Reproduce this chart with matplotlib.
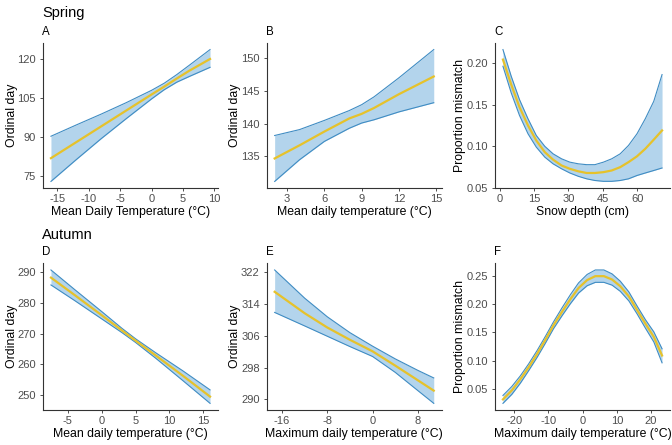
import matplotlib
matplotlib.use("Agg")
import matplotlib.pyplot as plt

plt.rcParams['font.family'] = ['Liberation Sans', 'DejaVu Sans']
plt.rcParams['axes.unicode_minus'] = False

# Panel A - spring, mean daily temperature
a_x = [-16, -12, -8, -4, 0, 2, 4, 6, 9.3]
a_fit = [82.0, 88.1, 94.2, 100.3, 106.4, 109.4, 112.5, 115.5, 120.0]
a_lo = [73.1, 81.4, 89.5, 97.2, 104.7, 108.2, 111.1, 113.3, 116.8]
a_hi = [90.4, 94.7, 98.9, 103.3, 108.0, 110.7, 114.0, 117.6, 123.6]

# Panel B - spring, mean daily temperature
b_x = [2.0, 4, 6, 8, 9, 10, 12, 14.8]
b_fit = [134.7, 136.7, 138.8, 140.8, 141.5, 142.4, 144.5, 147.2]
b_lo = [131.2, 134.5, 137.3, 139.3, 140.1, 140.6, 141.8, 143.2]
b_hi = [138.2, 139.1, 140.5, 142.0, 142.9, 144.1, 147.0, 151.3]

# Panel C - spring, snow depth
c_x = [1.5, 5.1, 8.7, 12.4, 16.0, 19.7, 23.3, 27.0, 30.6, 34.3,
       37.9, 41.5, 45.2, 48.8, 52.5, 56.1, 59.8, 63.4, 67.1, 70.7]
c_fit = [0.204, 0.174, 0.147, 0.125, 0.107, 0.093, 0.084, 0.077, 0.073, 0.070,
         0.068, 0.068, 0.069, 0.071, 0.075, 0.081, 0.088, 0.097, 0.108, 0.119]
c_lo = [0.196, 0.164, 0.137, 0.115, 0.099, 0.087, 0.079, 0.073, 0.068, 0.064,
        0.061, 0.059, 0.058, 0.058, 0.059, 0.061, 0.065, 0.068, 0.071, 0.074]
c_hi = [0.216, 0.184, 0.156, 0.133, 0.113, 0.100, 0.091, 0.085, 0.081, 0.079,
        0.078, 0.078, 0.081, 0.085, 0.091, 0.101, 0.115, 0.133, 0.154, 0.186]

# Panel D - autumn, mean daily temperature
d_x = [-7.5, -4, 0, 3, 5, 8, 12, 16]
d_fit = [288.3, 282.6, 276.0, 271.0, 267.7, 262.8, 256.2, 249.4]
d_lo = [285.9, 280.8, 274.8, 270.3, 267.1, 261.9, 254.6, 247.2]
d_hi = [290.8, 284.4, 277.2, 271.7, 268.3, 263.7, 257.8, 251.6]

# Panel E - autumn, maximum daily temperature
e_x = [-17.3, -12, -8, -4, 0, 4, 8, 10.8]
e_fit = [317.1, 311.7, 308.1, 305.0, 302.1, 298.5, 294.8, 292.2]
e_lo = [311.9, 308.5, 305.9, 303.3, 300.8, 296.8, 292.2, 289.0]
e_hi = [322.6, 315.5, 310.8, 306.8, 303.4, 300.2, 297.3, 295.4]

# Panel F - autumn, maximum daily temperature
f_x = [-23.3, -20.7, -18.2, -15.8, -13.3, -10.9, -8.5, -6.0, -3.6, -1.2,
       1.3, 3.7, 6.2, 8.6, 11.0, 13.5, 15.9, 18.3, 20.8, 23.2]
f_fit = [0.031, 0.047, 0.067, 0.088, 0.112, 0.137, 0.163, 0.187, 0.209, 0.229,
         0.243, 0.250, 0.250, 0.244, 0.232, 0.214, 0.190, 0.166, 0.142, 0.109]
f_lo = [0.024, 0.040, 0.060, 0.082, 0.106, 0.131, 0.157, 0.180, 0.201, 0.220,
        0.233, 0.239, 0.239, 0.234, 0.223, 0.206, 0.183, 0.158, 0.133, 0.096]
f_hi = [0.038, 0.054, 0.073, 0.094, 0.118, 0.143, 0.169, 0.194, 0.217, 0.238,
        0.253, 0.261, 0.261, 0.254, 0.241, 0.222, 0.197, 0.173, 0.151, 0.121]

panels = [
    ('A', a_x, a_fit, a_lo, a_hi, [-15, -10, -5, 0, 5, 10], [75, 90, 105, 120],
     'Mean Daily Temperature (°C)', 'Ordinal day', '{:.0f}'),
    ('B', b_x, b_fit, b_lo, b_hi, [3, 6, 9, 12, 15], [135, 140, 145, 150],
     'Mean daily temperature (°C)', 'Ordinal day', '{:.0f}'),
    ('C', c_x, c_fit, c_lo, c_hi, [0, 15, 30, 45, 60], [0.05, 0.10, 0.15, 0.20],
     'Snow depth (cm)', 'Proportion mismatch', '{:.2f}'),
    ('D', d_x, d_fit, d_lo, d_hi, [-5, 0, 5, 10, 15], [250, 260, 270, 280, 290],
     'Mean daily temperature (°C)', 'Ordinal day', '{:.0f}'),
    ('E', e_x, e_fit, e_lo, e_hi, [-16, -8, 0, 8], [290, 298, 306, 314, 322],
     'Maximum daily temperature (°C)', 'Ordinal day', '{:.0f}'),
    ('F', f_x, f_fit, f_lo, f_hi, [-20, -10, 0, 10, 20], [0.05, 0.10, 0.15, 0.20, 0.25],
     'Maximum daily temperature (°C)', 'Proportion mismatch', '{:.2f}'),
]

W, H = 672, 445
fig = plt.figure(figsize=(W / 100, H / 100), dpi=100)

lefts = [43, 266.7, 495]
ylab_x = [12, 235, 460]   # centre of the y titles, pixels
rows = [(43, 188), (263.3, 410)]
width = 175

fill_col = '#b3d4ec'
edge_col = '#3f8cc3'
line_col = '#e6c22b'
tick_col = '#4d4d4d'

for i, (lab, x, fit, lo, hi, xt, yt, xlab, ylab, fmt) in enumerate(panels):
    r, c = divmod(i, 3)
    top, bot = rows[r]
    ax = fig.add_axes([lefts[c] / W, 1 - bot / H, width / W, (bot - top) / H])
    ax.fill_between(x, lo, hi, color=fill_col, linewidth=0)
    ax.plot(x, lo, color=edge_col, lw=0.8)
    ax.plot(x, hi, color=edge_col, lw=0.8)
    ax.plot(x, fit, color=line_col, lw=1.6)
    ax.margins(0.05)
    ax.set_xticks(xt)
    ax.set_yticks(yt)
    ax.set_yticklabels([fmt.format(v) for v in yt])
    ax.tick_params(labelsize=8.0, colors='#333333', labelcolor=tick_col, length=2.5, width=0.6)
    ax.tick_params(axis='y', pad=2.5)
    ax.tick_params(axis='x', pad=2)
    for s in ['top', 'right']:
        ax.spines[s].set_visible(False)
    for s in ['left', 'bottom']:
        ax.spines[s].set_color('#333333')
        ax.spines[s].set_linewidth(0.8)
    ax.set_xlabel(xlab, fontsize=8.85, labelpad=1)
    ax.set_ylabel(ylab, fontsize=8.85, va='center')
    ax.yaxis.set_label_coords((ylab_x[c] - lefts[c]) / width, 0.5)
    fig.text((lefts[c] - 1) / W, 1 - (top - 11) / H, lab, fontsize=8.3, va='center', ha='left')

fig.text(42 / W, 1 - 13 / H, 'Spring', fontsize=10.5, va='center', ha='left')
fig.text(42 / W, 1 - 235 / H, 'Autumn', fontsize=10.5, va='center', ha='left')

fig.savefig('out.png', dpi=100, facecolor='white')
